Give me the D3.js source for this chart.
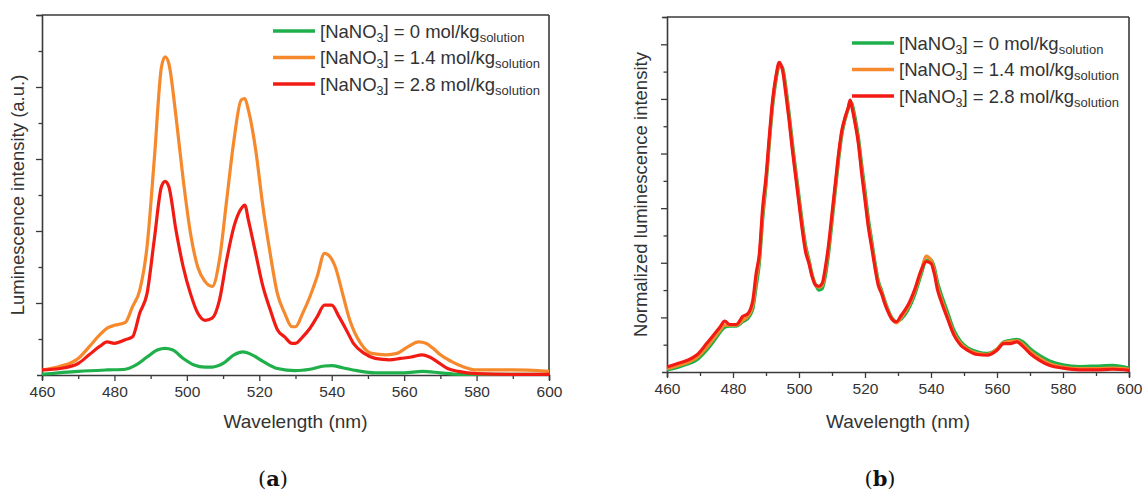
<!DOCTYPE html>
<html><head><meta charset="utf-8">
<script src="https://cdn.jsdelivr.net/npm/d3@7"></script>
<style>body{margin:0;background:#fff}svg{display:block}</style>
</head><body>
<script>
// ---- data ----
const wlA_orange = [460,465,470,473,476,478,480,483,485,487,489,491,493,494,495,497,499,501,503,505,507,509,511,513,515,516,517,519,521,523,525,527,529,530,532,534,536,538,539,541,543,545,548,551,555,558,561,564,566,568,570,573,576,580,590,600];
const valA_orange = [0.07,0.12,0.23,0.39,0.56,0.65,0.69,0.73,0.95,1.18,1.78,2.99,4.28,4.42,4.33,3.59,2.71,1.97,1.50,1.30,1.23,1.60,2.43,3.26,3.82,3.84,3.68,3.13,2.34,1.69,1.13,0.86,0.67,0.67,0.86,1.09,1.37,1.69,1.67,1.50,1.13,0.76,0.44,0.30,0.28,0.30,0.39,0.46,0.44,0.37,0.28,0.19,0.12,0.07,0.07,0.05];
const wlA_red = [460,465,470,473,476,478,480,483,485,487,489,491,493,494,495,497,499,501,503,505,507,509,511,513,515,516,517,519,521,523,525,527,529,530,532,534,536,538,540,542,544,546,549,552,556,559,562,565,567,569,572,575,580,590,600];
const valA_red = [0.07,0.09,0.16,0.28,0.40,0.46,0.44,0.49,0.53,0.86,1.13,1.88,2.62,2.69,2.62,2.01,1.50,1.13,0.86,0.76,0.79,1.04,1.60,2.06,2.31,2.36,2.15,1.69,1.23,0.91,0.63,0.53,0.44,0.44,0.53,0.65,0.81,0.97,0.97,0.81,0.63,0.44,0.30,0.23,0.21,0.23,0.25,0.28,0.25,0.19,0.09,0.05,0.02,0.01,0.01];
const wlA_green = [460,470,478,483,486,489,492,494,496,499,502,505,507,510,513,515.5,518,521,525,530,534,538,540,543,547,552,560,565,570,575,600];
const valA_green = [0.01,0.05,0.07,0.08,0.14,0.25,0.35,0.37,0.35,0.23,0.14,0.11,0.11,0.16,0.28,0.32,0.28,0.19,0.09,0.06,0.08,0.125,0.13,0.10,0.06,0.03,0.03,0.05,0.03,0.01,0.01];

const wlB = [460,463,466,469,472,474,476,477.5,479,481,483,484.5,486,487,488,489,490,491,492,493,494,495,496,497,498,499,500,501,502,503,504,505,506,507,508,509,510,511,512,513,514,515,515.5,516,517,518,519,520,521,522,523,524,525,526,527,528,529.5,531,533,535,537,538.5,540,541,542,543,545,547,549,551,554,557,560,562,564,566,568,570,573,576,580,585,590,595,600];
const valB_red = [0.09,0.15,0.21,0.31,0.52,0.67,0.82,0.93,0.87,0.87,1.02,1.07,1.31,1.80,2.17,3.02,3.57,4.31,4.98,5.41,5.67,5.53,5.10,4.61,4.06,3.57,3.08,2.60,2.20,1.99,1.74,1.59,1.57,1.62,1.92,2.35,2.90,3.45,4.00,4.43,4.67,4.86,4.98,4.86,4.55,4.18,3.63,3.15,2.66,2.29,1.92,1.59,1.44,1.25,1.10,0.98,0.92,1.04,1.22,1.50,1.86,2.02,1.99,1.80,1.50,1.31,0.98,0.67,0.49,0.40,0.32,0.31,0.40,0.52,0.52,0.55,0.46,0.34,0.21,0.12,0.07,0.04,0.04,0.05,0.03];
const valB_orange = [0.06,0.11,0.17,0.26,0.45,0.60,0.76,0.86,0.86,0.86,0.95,1.02,1.22,1.68,2.10,2.90,3.50,4.24,4.92,5.38,5.62,5.55,5.15,4.66,4.12,3.63,3.14,2.66,2.25,2.02,1.76,1.60,1.55,1.58,1.86,2.28,2.83,3.40,3.95,4.40,4.65,4.85,4.96,4.88,4.58,4.22,3.70,3.22,2.72,2.34,1.96,1.63,1.47,1.28,1.12,0.99,0.90,1.00,1.18,1.46,1.84,2.12,2.05,1.86,1.56,1.36,1.02,0.70,0.52,0.42,0.34,0.32,0.42,0.54,0.56,0.57,0.50,0.38,0.25,0.15,0.09,0.06,0.06,0.07,0.05];
const valB_green = [0.04,0.08,0.14,0.22,0.40,0.55,0.72,0.82,0.84,0.84,0.92,0.98,1.15,1.55,2.00,2.80,3.42,4.18,4.86,5.33,5.60,5.58,5.22,4.74,4.20,3.70,3.22,2.74,2.32,2.06,1.78,1.60,1.50,1.52,1.76,2.18,2.74,3.32,3.88,4.35,4.63,4.84,4.95,4.92,4.66,4.30,3.80,3.32,2.82,2.42,2.02,1.68,1.50,1.31,1.14,1.01,0.92,0.97,1.13,1.40,1.78,2.04,2.06,1.92,1.64,1.44,1.10,0.76,0.56,0.45,0.37,0.34,0.42,0.55,0.58,0.60,0.55,0.43,0.30,0.20,0.13,0.10,0.11,0.12,0.07];

const xTicks = [460,480,500,520,540,560,580,600];
const legendLabels = ["0","1.4","2.8"];
const colors = {green:"#1faf4b", orange:"#f5892c", red:"#f21b14"};

// ---- drawing ----
const W=1142,H=494;
const svg=d3.select("body").append("svg").attr("width",W).attr("height",H);
const font="'Liberation Sans', Arial, sans-serif";
const axisColor="#3a3a3a";

function panel(opt){
  const g=svg.append("g");
  const x=d3.scaleLinear().domain([460,600]).range([opt.x0,opt.x1]);
  const y=d3.scaleLinear().domain([0,opt.ymax]).range([opt.y0,opt.y1]);
  g.append("line").attr("x1",x(460)).attr("x2",x(600)).attr("y1",y(opt.ymax)).attr("y2",y(opt.ymax)).attr("stroke",axisColor).attr("stroke-width",1.6);
  g.append("line").attr("x1",x(600)).attr("x2",x(600)).attr("y1",y(opt.ymax)).attr("y2",y(0)).attr("stroke",axisColor).attr("stroke-width",1.6);
  const xa=g.append("g").attr("transform",`translate(0,${y(0)})`)
    .call(d3.axisBottom(x).tickValues(d3.range(460,601,10)).tickSize(5).tickPadding(6)
      .tickFormat(d=>xTicks.includes(d)?d:""));
  xa.selectAll(".tick line").attr("y2",d=>xTicks.includes(d)?6:4);
  const ya=g.append("g").attr("transform",`translate(${x(460)},0)`)
    .call(d3.axisLeft(y).tickValues(d3.range(0.5,opt.ymax+0.01,0.5)).tickFormat("").tickSize(5));
  ya.selectAll(".tick line").attr("x2",d=>Math.abs(d-Math.round(d))<1e-6?-6:-3.5);
  [xa,ya].forEach(a=>{
    a.select(".domain").attr("stroke",axisColor).attr("stroke-width",1.6);
    a.selectAll(".tick line").attr("stroke",axisColor).attr("stroke-width",1.3);
    a.selectAll("text").attr("font-family",font).attr("font-size",15.5).attr("fill","#333");
  });
  const line=d3.line().x(d=>x(d[0])).y(d=>y(d[1])).curve(d3.curveMonotoneX);
  opt.series.forEach(s=>{
    g.append("path").datum(d3.zip(s.wl,s.v)).attr("d",line)
      .attr("fill","none").attr("stroke",s.c).attr("stroke-width",3.2).attr("stroke-linejoin","round");
  });
  g.append("text").attr("x",(opt.x0+opt.x1)/2).attr("y",428).attr("text-anchor","middle")
    .attr("font-family",font).attr("font-size",19).attr("fill","#333").text("Wavelength (nm)");
  g.append("text").attr("transform",`translate(${opt.ylx},${(opt.y0+opt.y1)/2}) rotate(-90)`).attr("text-anchor","middle")
    .attr("dy","0.35em").attr("font-family",font).attr("font-size",18.5).attr("fill","#333").text(opt.ytitle);
  const lc=[colors.green,colors.orange,colors.red];
  legendLabels.forEach((lab,i)=>{
    const yy=opt.ly+i*26.5;
    g.append("line").attr("x1",opt.lx).attr("x2",opt.lx+42).attr("y1",yy).attr("y2",yy)
      .attr("stroke",lc[i]).attr("stroke-width",3.5);
    const t=g.append("text").attr("x",opt.lx+47).attr("y",yy+6.5).attr("font-family",font).attr("font-size",18.5).attr("fill","#333");
    t.append("tspan").text("[NaNO");
    t.append("tspan").attr("font-size",12.5).attr("dy",4).text("3");
    t.append("tspan").attr("dy",-4).text(`] = ${lab} mol/kg`);
    t.append("tspan").attr("font-size",13).attr("dy",4).text("solution");
  });
  const pl=svg.append("text").attr("x",opt.px).attr("y",486).attr("text-anchor","middle")
    .attr("font-family","'DejaVu Serif','Liberation Serif',serif").attr("font-size",21).attr("fill","#111");
  pl.append("tspan").text("(");
  pl.append("tspan").attr("font-weight","bold").text(opt.pl);
  pl.append("tspan").text(")");
}

panel({x0:42,x1:549,y0:375,y1:15,ymax:5,ylx:18,ytitle:"Luminescence intensity (a.u.)",
  lx:273,ly:31,px:273,pl:"a",
  series:[{wl:wlA_green,v:valA_green,c:colors.green},{wl:wlA_orange,v:valA_orange,c:colors.orange},{wl:wlA_red,v:valA_red,c:colors.red}]});
panel({x0:667,x1:1129,y0:372,y1:17,ymax:6.5,ylx:641,ytitle:"Normalized luminescence intensity",
  lx:852,ly:43,px:880,pl:"b",
  series:[{wl:wlB,v:valB_green,c:colors.green},{wl:wlB,v:valB_orange,c:colors.orange},{wl:wlB,v:valB_red,c:colors.red}]});
</script>
</body></html>
